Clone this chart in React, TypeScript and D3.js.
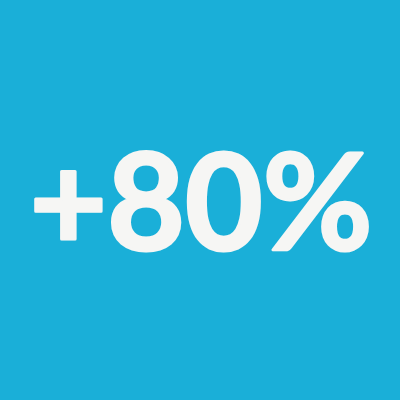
import { useEffect, useRef } from 'react'
import * as d3 from 'd3'

const labels = ['change']
const values = [0.8]

const width = 400
const height = 400

export default function App() {
  const svgRef = useRef<SVGSVGElement>(null)

  useEffect(() => {
    if (!svgRef.current) return
    const svg = d3.select(svgRef.current)
    svg.selectAll('*').remove()

    svg.attr('width', width).attr('height', height)

    svg.append('rect')
      .attr('width', width)
      .attr('height', height)
      .attr('fill', '#1aafd8')

    const fmt = d3.format('+.0%')

    svg.selectAll('text.kpi')
      .data(values)
      .join('text')
      .attr('class', 'kpi')
      .attr('x', width / 2 + 1)
      .attr('y', 250)
      .attr('text-anchor', 'middle')
      .attr('fill', '#f6f6f4')
      .attr('stroke', '#f6f6f4')
      .attr('stroke-width', 3)
      .attr('stroke-linejoin', 'round')
      .style('font-family', 'Lato, sans-serif')
      .style('font-weight', 700)
      .style('font-size', '134px')
      .text(d => fmt(d))
      .append('title')
      .text(labels[0])
  }, [])

  return (
    <svg
      ref={svgRef}
      style={{ position: 'absolute', left: 0, top: 0, display: 'block' }}
    />
  )
}
